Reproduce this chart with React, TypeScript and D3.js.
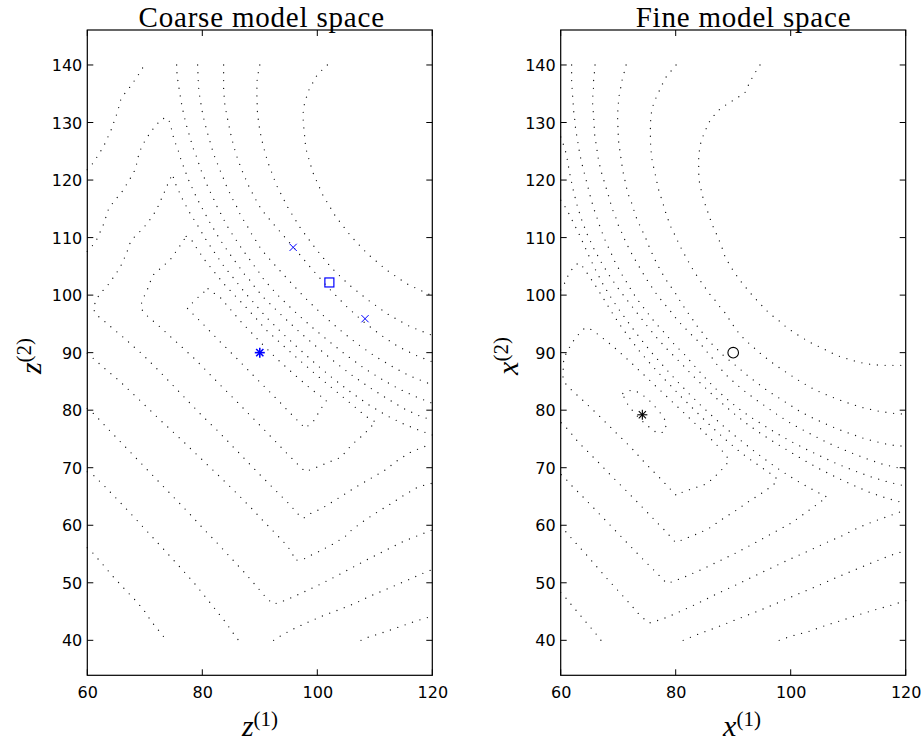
import React from 'react';
import * as d3 from 'd3';

type Pt = [number, number];

// Axis ticks shared by both panels
const xTicks = [60, 80, 100, 120];
const yTicks = [40, 50, 60, 70, 80, 90, 100, 110, 120, 130, 140];

// Level curves of the coarse model response, z-space
const coarseContours: Pt[][] = [
  [[81.0,101.1],[83.2,99.5],[85.0,97.4],[86.8,95.3],[88.75,93.25],[90.7,91.2],[93.0,88.9],[96.0,86.2],[99.0,83.6],[101.6,81.7],[100.6,80.2],[99.4,78.2],[97.9,76.85],[95.0,79.8],[92.0,82.9],[89.0,85.9],[86.0,89.0],[83.0,92.0],[80.0,95.1],[77.4,97.7],[78.6,99.0],[80.0,100.3],[81.0,101.1]],
  [[77.2,110.2],[78.0,109.8],[78.7,108.65],[80.35,106.2],[82.1,104.0],[83.8,101.9],[85.7,99.9],[87.5,98.0],[89.3,96.0],[91.0,94.05],[94.0,91.3],[97.0,88.6],[100.0,86.0],[103.0,83.5],[106.0,81.0],[108.5,78.9],[110.2,77.9],[109.6,77.4],[108.2,75.9],[106.0,74.0],[104.1,71.8],[102.8,71.3],[100.2,70.2],[97.9,69.3],[95.0,72.2],[90.0,77.4],[85.0,82.5],[82.8,84.7],[78.8,88.8],[76.7,90.75],[74.55,92.7],[72.5,94.6],[70.3,96.5],[69.3,97.7],[69.45,98.7],[69.9,99.8],[70.5,101.1],[71.0,102.45],[71.6,103.7],[72.7,104.6],[73.8,105.6],[74.8,106.6],[75.6,107.85],[76.4,109.0],[77.2,110.2]],
  [[120,75.7],[118,76.4],[115,77.6],[112,79.1],[109,80.9],[106,83.0],[103,85.3],[100,87.8],[97,90.5],[94,93.3],[90.9,96.4],[89.2,98.4],[87.3,100.55],[85.6,102.75],[83.8,104.95],[82.2,107.3],[80.6,109.7],[79.2,112.1],[77.7,114.5],[76.4,117.0],[75.25,119.55],[74.8,121.05],[74.1,119.55],[73.6,118.3],[73.0,117.0],[72.4,115.6],[71.7,114.3],[70.95,113.2],[70.1,112.1],[69.1,111.0],[68.1,110.0],[67.3,108.8],[66.9,107.45],[66.3,106.1],[65.7,104.8],[64.9,103.6],[64.1,102.45],[63.25,101.3],[62.2,100.3],[61.5,99.0],[61.0,97.7],[61.6,96.55],[62.7,95.7],[63.8,94.75],[64.9,93.8],[66.0,92.9],[67.0,92.0],[68.1,91.0],[69.2,90.05],[70.2,89.1],[72.5,86.8],[75,84.2],[77.5,81.6],[80,79],[82.8,76.3],[85,74],[87.5,71.4],[90,68.8],[92.5,66.3],[95,63.8],[96.7,61.9],[97.6,61.2],[98.3,61.8],[100.75,62.9],[103.65,64.7],[106.8,66.7],[109.4,68.2],[111.8,69.6],[114.0,71.3],[116.4,72.8],[119.0,73.8],[120,74.0]],
  [[60,107.6],[60.75,108.4],[61.6,109.6],[62.2,110.9],[62.8,112.25],[63.25,113.6],[63.7,115.0],[64.5,116.1],[65.4,117.2],[66.3,118.3],[67.0,119.55],[67.8,120.8],[68.4,122.0],[68.7,123.4],[69.0,124.65],[69.6,126.1],[70.4,127.4],[71.2,128.6],[72.1,129.7],[73.0,130.7],[74.1,130.7],[74.55,129.3],[74.84,127.95],[75.25,126.6],[75.8,125.2],[76.2,123.8],[76.7,122.45],[77.2,121.1],[77.7,119.8],[78.3,118.5],[78.9,117.2],[79.5,116.0],[80.2,114.7],[80.9,113.4],[81.6,112.1],[82.3,111.0],[83.0,109.75],[83.8,108.6],[84.6,107.4],[85.45,106.2],[86.3,105.1],[87.1,103.9],[88.1,102.8],[88.9,101.7],[89.8,100.6],[90.7,99.55],[94,96.3],[97,93.5],[100,90.9],[103,88.4],[106,86.1],[109,84.0],[112,82.1],[115,80.3],[118,78.9],[120,78.3]],
  [[60,89.9],[61.04,89.0],[63.2,87.1],[65.4,85.25],[68,82.8],[70.6,80.3],[73.2,77.8],[75.8,75.4],[78.4,72.9],[80.9,70.5],[83.5,68],[86.0,65.55],[88.5,63],[90.9,60.45],[92.9,58.4],[94.8,56.4],[95.7,55],[96.1,53.9],[97.6,54.1],[98.7,54.7],[100.2,55.4],[102.5,56.6],[104.8,58.0],[106.0,59.2],[108.3,60.9],[110.6,62.4],[112.9,63.8],[115.2,65.3],[117.6,66.7],[120,67.3]],
  [[60,121.8],[60.64,122.45],[61.45,123.65],[62.2,124.8],[62.9,126.0],[63.5,127.3],[64.1,128.6],[64.6,130.0],[65.1,131.4],[65.5,132.75],[65.86,134.15],[66.7,135.3],[67.6,136.4],[68.4,137.6],[69.16,138.7],[69.9,140]],
  [[75.54,140],[75.6,138.55],[75.77,137.1],[76.0,135.65],[76.23,134.2],[76.46,132.9],[76.75,131.5],[77.1,130.1],[77.45,128.7],[77.9,127.4],[78.26,125.9],[78.8,124.6],[79.25,123.3],[79.7,121.9],[80.3,120.5],[80.8,119.2],[81.4,117.9],[82.0,116.65],[82.6,115.3],[83.25,114.1],[83.9,112.8],[84.6,111.55],[85.4,110.3],[86.2,109.1],[87.0,107.85],[87.9,106.7],[88.7,105.5],[89.6,104.4],[90.4,103.1],[93,100.1],[96,97.2],[99,94.5],[102,92.0],[105,89.6],[108,87.4],[111,85.5],[114,83.8],[117,82.4],[120,81.2]],
  [[60,80.3],[60.75,79.75],[63,77.4],[65,75.3],[67.5,72.7],[70,70.1],[72.5,67.5],[75,64.9],[77.5,62.3],[80,59.6],[82.5,57],[85,54.3],[87.5,51.6],[89.5,49.3],[91.2,47.3],[92.35,46.3],[93.5,46.6],[95,47.2],[97,48.1],[100,49.5],[103,51.0],[106,52.6],[109,54.2],[112,55.7],[115,57.2],[118,58.4],[120,59.2]],
  [[79.19,140],[79.3,137.1],[79.4,135.65],[79.6,134.2],[79.83,132.9],[80.06,131.5],[80.4,130.1],[80.75,128.7],[81.16,127.3],[81.57,125.9],[81.97,124.5],[82.5,123.2],[83.0,121.9],[83.6,120.5],[84.1,119.2],[84.7,117.9],[85.3,116.65],[85.97,115.4],[86.55,114.1],[87.25,112.9],[88.0,111.7],[88.7,110.4],[89.5,109.2],[90.2,108.0],[92.1,105.8],[95.0,102.6],[98.0,99.4],[101.0,96.5],[104.0,93.9],[107.0,91.5],[110.0,89.4],[113.0,87.6],[116.0,86.0],[120,84.4]],
  [[60,69.3],[60.75,69.0],[62.8,67.0],[65.5,64.2],[68.6,60.9],[72,57.2],[75.5,53.4],[78.8,49.7],[81.9,45.85],[84,43.2],[85.4,41.2],[86.3,40]],
  [[92.4,40],[94,41],[96.1,42.1],[98.7,43.3],[101.3,44.4],[104,45.4],[106.5,46.4],[109,47.6],[111.6,48.7],[113.7,49.6],[115.8,50.5],[118,51.5],[120,52.3]],
  [[83.71,140],[83.71,137.8],[83.71,135.65],[83.94,132.9],[84.52,130.0],[85.1,127.3],[85.86,124.5],[86.8,121.9],[88.0,119.1],[89.28,116.65],[90.2,115.0],[92.0,112.8],[93.9,110.6],[95.8,108.4],[99.0,104.6],[102.0,101.2],[105.0,98.1],[108.0,95.4],[111.0,93.1],[114.0,91.1],[117.0,89.6],[120,88.4]],
  [[60,56.1],[60.76,55.4],[62.6,53.3],[64.5,51.06],[66.5,48.9],[68.6,46.7],[70,45],[71.2,43.2],[72.5,41.6],[73.8,40]],
  [[107.6,40],[109,40.6],[111,41.2],[113,41.9],[115,42.6],[117,43.3],[119,43.9],[120,44.3]],
  [[90,140],[89.7,138.5],[89.5,137.1],[89.5,134.3],[89.6,131.5],[90,128.6],[90.6,125.9],[91.4,123.1],[92.9,119.1],[94.9,115.2],[97.1,111.6],[99.7,108.1],[102.4,104.8],[105.5,101.8],[108.9,99.1],[112.4,96.6],[116,94.6],[120,93.0]],
  [[101.75,140],[100.7,139],[99.8,138],[98.4,135.4],[97.6,132.6],[97.5,131],[97.6,129.7],[98.0,125.5],[99.2,121.4],[100.9,117.5],[103.1,113.8],[105.8,110.3],[108.7,107.2],[112.0,104.4],[115.5,102.0],[119.3,100.2],[120,99.9]],
];

// Level curves of the fine model response, x-space
const fineContours: Pt[][] = [
  [[70.8,82.9],[72.3,83.5],[73.8,83.0],[75.3,81.8],[76.7,80.3],[77.9,78.8],[78.4,77.6],[78.0,76.2],[76.8,76.0],[75.6,76.9],[74.4,77.9],[73.1,79.2],[72.0,80.5],[71.2,81.7],[70.8,82.9]],
  [[80,65.3],[77.15,68.3],[74.6,70.9],[72.2,73.55],[69.6,76.1],[67.1,78.6],[64.5,81.1],[61.9,83.5],[60.75,84.7],[60.3,86.1],[60.5,87.6],[60.5,89.0],[61.2,90.3],[61.9,91.6],[62.6,92.6],[63.4,93.5],[64.2,94.3],[65,94.2],[66.2,93.4],[67.6,92.3],[69.2,91],[70.8,89.6],[72.5,88],[74.2,86.4],[76.2,84.5],[78.2,82.6],[80.2,80.7],[82.2,78.8],[84.2,76.9],[86,75.1],[87.6,73.5],[88.8,72.1],[89.3,71.2],[88.3,70.0],[87.4,69.0],[85.4,67.2],[82.7,66.3],[80,65.3]],
  [[60,100.9],[60.45,101.5],[61.0,102.9],[61.9,104.4],[62.6,105.3],[63.3,105.6],[64,104.7],[65,103.2],[66.2,101.4],[67.5,99.3],[68.9,97],[70.4,94.7],[72,92.5],[73.6,90.4],[75.3,88.4],[77.1,86.4],[79,84.4],[81,82.3],[83,80.3],[85,78.3],[87,76.4],[89,74.6],[91,72.9],[93,71.4],[95,70],[96.6,68.9],[97.7,68],[97,67],[95,65.6],[92.5,64],[90.6,62.65],[88,61],[86,59.6],[84,58.6],[82,57.8],[80,57],[78,59.2],[75,62.3],[72,65.4],[69,68.4],[66,71.5],[63,74.5],[61.3,76.6],[60,77.9]],
  [[60,116.5],[60.8,115.3],[61.4,114.2],[62,113],[62.6,111.8],[63.3,110.4],[64.1,108.6],[65,106.6],[66.1,104.3],[67.3,102],[68.6,99.8],[70,97.7],[71.5,95.6],[72.9,93.7],[74.2,92],[76,89.8],[78,87.5],[80,85.3],[82,83.2],[84,81.2],[86,79.3],[88,77.5],[90,75.8],[92,74.2],[94,72.6],[96,71.1],[98,69.7],[100,68.4],[102,67.2],[104,66.1],[105.5,65.3],[106.3,64.9],[104.8,63.8],[102.5,62.1],[100.2,60.45],[97,58.7],[93.7,56.9],[90.5,55.2],[87.4,53.7],[84.5,52.3],[81.5,51],[79.5,50.2],[78.45,49.9],[76.5,51.9],[74,54.4],[71.5,57],[69,59.6],[66.5,62.2],[64,64.8],[62,66.8],[61,67.9],[60,68.9]],
  [[60,127.5],[60.6,125.8],[61,124.4],[61.5,121.5],[62.1,118.6],[62.8,115.8],[63.6,113.2],[64.6,110.6],[65.7,108.2],[67,105.8],[68.4,103.5],[69.9,101.3],[71.5,99.2],[73.2,97],[74.9,94.8],[76.7,92.6],[78.6,90.5],[80.6,88.5],[82.5,86.5],[84.5,84.5],[86.5,82.6],[88.5,80.8],[90.5,79.1],[92.7,77.4],[95,75.8],[97.5,74.2],[100,72.7],[102.5,71.2],[105,69.8],[108,68.3],[111,66.9],[114,65.6],[117,64.6],[120,63.8]],
  [[60,59.9],[62,57.6],[64,55.4],[66,53.1],[68,50.8],[70,48.6],[72,46.4],[73.8,44.3],[75.4,43],[77,43.5],[78.5,44],[80.5,44.9],[82.5,45.8],[85,47],[87.4,48.2],[90,49.4],[92.5,50.6],[95,51.8],[97.5,53],[100.2,54.25],[103,55.5],[106,56.9],[109,58.2],[111.8,59.6],[114,60.5],[116.5,61.4],[119,62.3],[120,62.6]],
  [[61.9,140],[61.9,138.55],[61.9,137.1],[62.0,135.65],[62.1,134.2],[62.2,132.9],[62.3,131.5],[62.5,130.1],[62.6,128.65],[62.9,127.2],[63.1,125.8],[63.35,124.35],[63.65,123.0],[64.0,121.6],[64.35,120.3],[64.7,118.96],[65.0,117.7],[65.4,116.25],[65.8,114.9],[66.26,113.6],[66.7,112.25],[67.2,110.9],[67.7,109.6],[68.3,108.3],[68.9,107.0],[69.45,105.75],[70.15,104.5],[70.8,103.3],[71.5,102.2],[72.2,101.0],[72.9,99.9],[73.7,98.75],[74.5,97.7],[75.4,96.55],[76.2,95.5],[77.1,94.5],[78.0,93.5],[78.85,92.5],[79.7,91.5],[80.6,90.6],[81.6,89.6],[83,88],[84.5,86.3],[86,84.7],[87.6,83.1],[89.3,81.6],[91.2,80.1],[93.2,78.7],[95.4,77.3],[97.7,75.9],[100,74.6],[102.5,73.3],[105,72.1],[108,70.7],[111,69.5],[114,68.4],[117,67.5],[120,66.8]],
  [[60,48.3],[60.45,47.9],[61.5,46.6],[62.6,45.3],[63.7,44],[64.8,42.7],[66,41.3],[67,40]],
  [[81.3,40],[84,41.1],[87.1,42.25],[90.5,43.6],[94.1,45],[97.5,46.4],[100.9,47.9],[104.3,49.3],[107.7,50.8],[111.3,52.3],[114.9,53.8],[117.5,54.8],[120,55.6]],
  [[65.97,140],[65.85,138.55],[65.7,137.1],[65.7,135.65],[65.56,134.3],[65.56,132.9],[65.7,131.5],[65.8,130.0],[65.85,128.65],[65.97,127.25],[66.26,125.8],[66.4,124.35],[66.7,123.0],[67.0,121.6],[67.4,120.3],[67.8,118.96],[68.2,117.7],[68.6,116.25],[69.0,114.9],[69.55,113.6],[70.0,112.2],[70.6,110.9],[71.2,109.5],[71.8,108.25],[72.5,106.9],[73.2,105.7],[73.9,104.5],[74.6,103.3],[75.3,102.2],[76.1,101.0],[76.9,99.85],[77.8,98.75],[78.7,97.7],[79.6,96.55],[80.5,95.4],[81.5,94.4],[82.5,93.35],[83.5,92.4],[84.5,91.3],[85.3,90.3],[86.1,89.4],[87.2,87.9],[88.6,86.3],[90.2,84.8],[92,83.3],[94,81.8],[96,80.4],[98,79],[100.2,77.6],[103,76.1],[106.5,74.3],[110,72.8],[113.1,71.6],[116,70.6],[118.6,70],[120,69.8]],
  [[98,40],[100,40.7],[103,41.5],[106.4,42.7],[109,43.5],[112,44.5],[115,45.4],[117.5,46.1],[120,46.9]],
  [[71.37,140],[71.0,138.55],[70.6,137.1],[70.4,135.8],[70.1,134.4],[70.0,132.9],[69.9,131.5],[69.9,130.0],[70.0,128.7],[70.0,127.25],[70.2,125.8],[70.4,124.35],[70.6,123.0],[70.8,121.6],[71.1,120.3],[71.4,118.85],[71.75,117.5],[72.3,116.1],[72.75,114.7],[73.2,113.35],[73.8,112.0],[74.4,110.75],[75.0,109.4],[75.5,108.1],[76.1,106.8],[76.7,105.5],[77.4,104.25],[78.1,103.0],[78.9,101.8],[79.8,100.6],[80.5,99.4],[81.2,98.3],[82.0,97.1],[82.8,96.0],[83.5,94.9],[84.35,93.9],[85.1,92.8],[86.0,91.8],[87.0,90.8],[88.2,89.6],[89.4,88.6],[90.7,87.56],[92.4,86.1],[94.1,84.8],[95.8,83.5],[97.6,82.35],[99.4,81.2],[101.2,80.03],[103.1,79.0],[105.1,78.06],[107.0,77.2],[109.0,76.4],[111.0,75.7],[113.0,75.0],[115.0,74.5],[117.3,73.95],[120,73.7]],
  [[80.06,140],[79.2,138.96],[78.3,137.86],[77.6,136.5],[77.0,135.2],[76.4,133.9],[75.9,132.5],[75.7,131.1],[75.6,129.75],[75.6,128.35],[75.6,126.85],[75.7,125.3],[75.8,123.95],[76.1,122.5],[76.4,121.2],[76.7,119.8],[77.0,118.4],[77.45,117.0],[77.9,115.6],[78.3,114.2],[78.8,112.8],[79.3,111.5],[80.0,110.2],[80.6,108.8],[81.3,107.5],[82.0,106.2],[82.7,104.95],[83.4,103.8],[84.2,102.6],[85.0,101.5],[85.8,100.3],[86.8,99.15],[87.65,98.0],[88.6,96.9],[89.5,95.5],[90.5,94.0],[91.5,92.8],[92.6,91.74],[94.8,89.8],[97.0,88.08],[99.35,86.5],[101.8,84.9],[104.3,83.5],[107.0,82.35],[109.6,81.36],[112.3,80.5],[115.1,79.86],[117.85,79.45],[120,79.3]],
  [[94.66,140],[93.9,138.8],[93.2,137.6],[92.5,136.2],[92.0,135.1],[91.0,134.5],[89.6,133.6],[88.3,132.8],[87.3,132.0],[86.4,130.9],[85.6,129.75],[85.1,128.4],[84.5,127.1],[84.2,125.7],[84.0,124.2],[84.0,122.7],[84.0,121.3],[84.1,119.8],[84.4,118.4],[84.7,117.1],[85.1,115.85],[85.6,114.4],[86.1,112.95],[86.7,111.4],[87.3,110.2],[88.0,108.4],[88.57,106.7],[89.3,105.4],[90.1,104.1],[91.0,102.8],[91.9,101.7],[92.7,100.7],[93.7,99.55],[94.7,98.5],[95.6,97.5],[96.7,96.5],[97.8,95.7],[98.9,94.7],[100.0,93.9],[101.2,93.1],[102.5,92.3],[103.8,91.56],[105.0,91.0],[106.25,90.4],[107.6,89.7],[108.9,89.2],[110.3,88.8],[111.6,88.4],[113.0,88.1],[114.5,87.9],[115.9,87.8],[117.4,87.8],[120,87.8]],
];

// Iterates and optimum in each space
const coarseCrosses: Pt[] = [[95.8, 108.3], [108.3, 95.9]];
const coarseSquares: Pt[] = [[102.1, 102.2]];
const coarseStars: Pt[] = [[90, 90]];
const fineStars: Pt[] = [[74.2, 79.2]];
const fineCircles: Pt[] = [[90, 90]];

const X_DOMAIN: [number, number] = [60, 120];
const Y_DOMAIN: [number, number] = [33.92, 146.08];
const PLOT_TOP = 30;
const PLOT_BOTTOM = 675.3;

type MarkerSet = { shape: 'cross' | 'square' | 'star' | 'circle'; color: string; points: Pt[]; width?: number };

interface PanelProps {
  left: number;
  right: number;
  contours: Pt[][];
  markers: MarkerSet[];
  title: string;
  titleX: number;
  sym: string;
  xLabelX: number;
  yLabelX: number;
}

function Marker({ shape, color, cx, cy, width }: { shape: string; color: string; cx: number; cy: number; width: number }) {
  if (shape === 'cross') {
    const s = 3.6;
    return (
      <g stroke={color} strokeWidth={width}>
        <line x1={cx - s} y1={cy - s} x2={cx + s} y2={cy + s} />
        <line x1={cx - s} y1={cy + s} x2={cx + s} y2={cy - s} />
      </g>
    );
  }
  if (shape === 'square') {
    const s = 4.5;
    return <rect x={cx - s} y={cy - s} width={2 * s} height={2 * s} fill="none" stroke={color} strokeWidth={width} />;
  }
  if (shape === 'circle') {
    return <circle cx={cx} cy={cy} r={5.3} fill="none" stroke={color} strokeWidth={width} />;
  }
  const s = 5;
  const d = s * 0.72;
  return (
    <g stroke={color} strokeWidth={width}>
      <line x1={cx - s} y1={cy} x2={cx + s} y2={cy} />
      <line x1={cx} y1={cy - s} x2={cx} y2={cy + s} />
      <line x1={cx - d} y1={cy - d} x2={cx + d} y2={cy + d} />
      <line x1={cx - d} y1={cy + d} x2={cx + d} y2={cy - d} />
    </g>
  );
}

function Panel({ left, right, contours, markers, title, titleX, sym, xLabelX, yLabelX }: PanelProps) {
  const x = d3.scaleLinear().domain(X_DOMAIN).range([left, right]);
  const y = d3.scaleLinear().domain(Y_DOMAIN).range([PLOT_BOTTOM, PLOT_TOP]);
  const line = d3
    .line<Pt>()
    .x((d) => x(d[0]))
    .y((d) => y(d[1]));
  const tickLen = 6;
  const tickFont = { fontFamily: '"DejaVu Sans", "Liberation Sans", Arial, sans-serif', fontSize: 16 };
  const serif = '"Liberation Serif", "Times New Roman", serif';

  return (
    <g>
      {/* contour lines, dotted */}
      <g fill="none" stroke="#1a1a1a" strokeWidth={1.35} strokeLinecap="round" strokeDasharray="0 7.8">
        {contours.map((c, i) => (
          <path key={i} d={line(c) || ''} />
        ))}
      </g>

      {/* frame */}
      <rect
        x={left}
        y={PLOT_TOP}
        width={right - left}
        height={PLOT_BOTTOM - PLOT_TOP}
        fill="none"
        stroke="#000"
        strokeWidth={1.2}
      />

      {/* ticks */}
      <g stroke="#000" strokeWidth={1}>
        {yTicks.map((t) => (
          <g key={'y' + t}>
            <line x1={left} x2={left + tickLen} y1={y(t)} y2={y(t)} />
            <line x1={right} x2={right - tickLen} y1={y(t)} y2={y(t)} />
          </g>
        ))}
        {xTicks.map((t) => (
          <g key={'x' + t}>
            <line x1={x(t)} x2={x(t)} y1={PLOT_BOTTOM} y2={PLOT_BOTTOM - tickLen} />
            <line x1={x(t)} x2={x(t)} y1={PLOT_TOP} y2={PLOT_TOP + tickLen} />
          </g>
        ))}
      </g>

      {/* tick labels */}
      <g fill="#000" style={tickFont}>
        {yTicks.map((t) => (
          <text key={'yl' + t} x={left - 5} y={y(t) + 6} textAnchor="end">
            {t}
          </text>
        ))}
        {xTicks.map((t) => (
          <text key={'xl' + t} x={x(t) + 0.5} y={698.3} textAnchor="middle">
            {t}
          </text>
        ))}
      </g>

      {/* markers */}
      {markers.map((m, i) =>
        m.points.map((p, j) => (
          <Marker key={i + '-' + j} shape={m.shape} color={m.color} cx={x(p[0])} cy={y(p[1])} width={m.width ?? 1} />
        ))
      )}

      {/* title */}
      <text x={titleX} y={27} textAnchor="middle" fontFamily={serif} fontSize={29} letterSpacing={0.8} fill="#000">
        {title}
      </text>

      {/* x label */}
      <text x={xLabelX} y={736} textAnchor="middle" fontFamily={serif} fill="#000">
        <tspan fontStyle="italic" fontSize={30}>{sym}</tspan>
        <tspan fontSize={21} dy={-10}>(1)</tspan>
      </text>

      {/* y label */}
      <text
        transform={`translate(${yLabelX},356) rotate(-90)`}
        textAnchor="middle"
        fontFamily={serif}
        fill="#000"
      >
        <tspan fontStyle="italic" fontSize={30}>{sym}</tspan>
        <tspan fontSize={21} dy={-10}>(2)</tspan>
      </text>
    </g>
  );
}

export default function App() {
  const coarseMarkers: MarkerSet[] = [
    { shape: 'cross', color: '#0000ff', points: coarseCrosses },
    { shape: 'square', color: '#0000ff', points: coarseSquares, width: 1.2 },
    { shape: 'star', color: '#0000ff', points: coarseStars, width: 1.6 },
  ];
  const fineMarkers: MarkerSet[] = [
    { shape: 'star', color: '#000000', points: fineStars, width: 1.1 },
    { shape: 'circle', color: '#000000', points: fineCircles, width: 1.1 },
  ];
  return (
    <svg
      width={921}
      height={743}
      viewBox="0 0 921 743"
      style={{ position: 'absolute', left: 0, top: 0, background: '#fff' }}
    >
      <rect x={0} y={0} width={921} height={743} fill="#fff" />
      <Panel
        left={87.3}
        right={432.3}
        contours={coarseContours}
        markers={coarseMarkers}
        title="Coarse model space"
        titleX={261.7}
        sym="z"
        xLabelX={260}
        yLabelX={41}
      />
      <Panel
        left={560.7}
        right={905.7}
        contours={fineContours}
        markers={fineMarkers}
        title="Fine model space"
        titleX={743.5}
        sym="x"
        xLabelX={742}
        yLabelX={518}
      />
    </svg>
  );
}
